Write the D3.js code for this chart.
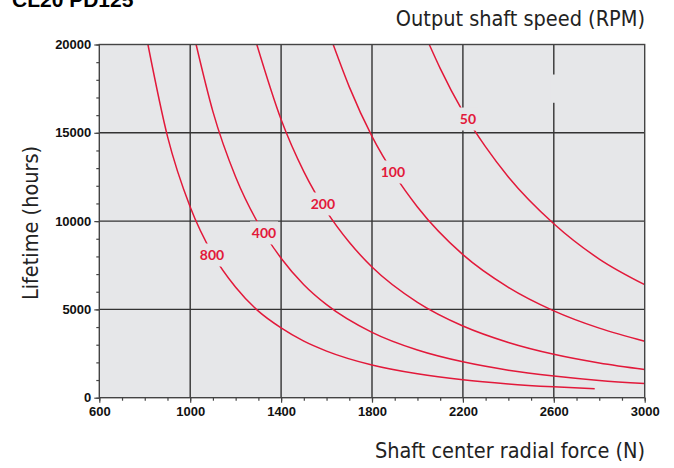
<!DOCTYPE html>
<html>
<head>
<meta charset="utf-8">
<script src="https://cdn.jsdelivr.net/npm/d3@7"></script>
<style>
  body { margin: 0; background: #fff; }
  svg { display: block; }
  .tick text { font-family: "Liberation Sans", Arial, sans-serif; font-weight: bold; font-size: 13px; fill: #111; }
  .axis-title { font-family: "DejaVu Sans Condensed", "Liberation Sans Narrow", sans-serif; font-size: 21.5px; fill: #222; }
  .rpm-label { font-family: "Lato", "Open Sans", sans-serif; font-weight: bold; font-size: 14px; fill: #e2193a; }
</style>
</head>
<body>
<div id="vis"></div>
<script>
// x ticks (N) and y ticks (hours)
const xTicks = [600, 1000, 1400, 1800, 2200, 2600, 3000];
const yTicks = [0, 5000, 10000, 15000, 20000];

// curves: radial force (N) -> lifetime (hours)
const force800 = [814, 900, 1000, 1100, 1200, 1300, 1400, 1500, 1600, 1800, 2000, 2200, 2400, 2600, 2780];
const life800 = [20000, 14800, 10800, 8100, 6250, 4900, 3950, 3200, 2640, 1850, 1350, 1010, 780, 615, 500];
const force400 = [1026, 1100, 1200, 1300, 1400, 1500, 1600, 1800, 2000, 2200, 2400, 2600, 2800, 3000];
const life400 = [20000, 16200, 12500, 9850, 7900, 6400, 5270, 3700, 2700, 2030, 1560, 1230, 980, 800];
const force200 = [1293, 1400, 1500, 1600, 1700, 1800, 2000, 2200, 2400, 2600, 2800, 3000];
const life200 = [20000, 15750, 12800, 10550, 8800, 7400, 5400, 4060, 3130, 2460, 1970, 1600];
const force100 = [1629, 1700, 1800, 1900, 2000, 2200, 2400, 2600, 2800, 3000];
const life100 = [20000, 17600, 14800, 12600, 10800, 8100, 6250, 4920, 3940, 3200];
const force50 = [2052, 2100, 2200, 2300, 2400, 2600, 2800, 3000];
const life50 = [20000, 18650, 16200, 14200, 12500, 9850, 7850, 6400];

// label spots on each curve
const speeds = [800, 400, 200, 100, 50];
const labelForce = [1096, 1325, 1584, 1892, 2222];
const labelLife = [8080, 9330, 10970, 12780, 15780];

const curves = [
  {rpm: 800, force: force800, life: life800},
  {rpm: 400, force: force400, life: life400},
  {rpm: 200, force: force200, life: life200},
  {rpm: 100, force: force100, life: life100},
  {rpm: 50, force: force50, life: life50},
];

const W = 674;
const H = 468;
const margin = {top: 44.5, right: 29.3, bottom: 70.3, left: 99.3};
const width = W - margin.left - margin.right;
const height = H - margin.top - margin.bottom;
const red = '#e2193a';
const plotBg = '#e6e7e9';

const root = d3.select('#vis').append('svg')
  .attr('width', W)
  .attr('height', H);

// cut-off heading at the very top
root.append('text')
  .attr('x', 12).attr('y', 7)
  .style('font-family', 'Liberation Sans, Arial, sans-serif')
  .style('font-weight', 'bold')
  .style('font-size', '21px')
  .text('CL20 PD125');

const svg = root.append('g')
  .attr('transform', 'translate(' + margin.left + ',' + margin.top + ')');

const x = d3.scaleLinear().domain([600, 3000]).range([0, width]);
const y = d3.scaleLinear().domain([0, 20000]).range([height, 0]);

svg.append('rect')
  .attr('width', width).attr('height', height)
  .attr('fill', plotBg);

// grid
svg.append('g')
  .selectAll('line')
  .data(xTicks.slice(1, -1))
  .join('line')
  .attr('x1', (d) => x(d)).attr('x2', (d) => x(d))
  .attr('y1', 0).attr('y2', height)
  .attr('stroke', '#333').attr('stroke-width', 1.4);
svg.append('g')
  .selectAll('line')
  .data(yTicks.slice(1, -1))
  .join('line')
  .attr('x1', 0).attr('x2', width)
  .attr('y1', (d) => y(d)).attr('y2', (d) => y(d))
  .attr('stroke', '#333').attr('stroke-width', 1.4);

// break in the 2600 line near the top
svg.append('rect')
  .attr('x', x(2600) - 3).attr('width', 6)
  .attr('y', y(18300)).attr('height', y(16700) - y(18300))
  .attr('fill', plotBg);

// curves
svg.append('clipPath').attr('id', 'clip')
  .append('rect').attr('width', width).attr('height', height);

const line = d3.line()
  .x((d) => x(d[0]))
  .y((d) => y(d[1]))
  .curve(d3.curveMonotoneX);

svg.append('g')
  .attr('clip-path', 'url(#clip)')
  .selectAll('path')
  .data(curves)
  .join('path')
  .attr('d', (c) => line(d3.zip(c.force, c.life)))
  .attr('fill', 'none')
  .attr('stroke', red)
  .attr('stroke-width', 1.5);

// labels sit in a gap cut out of the curve
const labels = svg.append('g')
  .selectAll('g')
  .data(speeds)
  .join('g')
  .attr('transform', (d, i) => 'translate(' + x(labelForce[i]) + ',' + y(labelLife[i]) + ')');
labels.append('rect')
  .attr('x', (d) => d < 100 ? -11 : -14)
  .attr('width', (d) => d < 100 ? 22 : 28)
  .attr('y', -11.5).attr('height', 23)
  .attr('fill', plotBg);
labels.append('text')
  .attr('class', 'rpm-label')
  .attr('text-anchor', 'middle')
  .attr('dy', '0.36em')
  .text((d) => d);

// frame
svg.append('rect')
  .attr('width', width).attr('height', height)
  .attr('fill', 'none')
  .attr('stroke', '#444').attr('stroke-width', 1.4);

// axes
const xAxis = svg.append('g')
  .attr('transform', 'translate(0,' + height + ')');
xAxis.append('g')
  .call(d3.axisBottom(x).tickValues(d3.range(600, 3001, 100)).tickSize(3).tickFormat(''))
  .call((g) => g.select('.domain').remove());
xAxis.append('g')
  .call(d3.axisBottom(x).tickValues(xTicks).tickSize(5).tickPadding(4).tickFormat(d3.format('d')))
  .call((g) => g.select('.domain').remove());

const yAxis = svg.append('g');
yAxis.append('g')
  .call(d3.axisLeft(y).tickValues(d3.range(0, 20001, 1000)).tickSize(3).tickFormat(''))
  .call((g) => g.select('.domain').remove());
yAxis.append('g')
  .call(d3.axisLeft(y).tickValues(yTicks).tickSize(5).tickPadding(3).tickFormat(d3.format('d')))
  .call((g) => g.select('.domain').remove());

root.selectAll('.tick line').attr('stroke', '#444').attr('stroke-width', 1.2);

// axis titles
root.append('text')
  .attr('class', 'axis-title')
  .attr('x', 645).attr('y', 26)
  .attr('text-anchor', 'end')
  .text('Output shaft speed (RPM)');
root.append('text')
  .attr('class', 'axis-title')
  .attr('x', 645).attr('y', 458)
  .attr('text-anchor', 'end')
  .text('Shaft center radial force (N)');
root.append('text')
  .attr('class', 'axis-title')
  .attr('transform', 'translate(38,223) rotate(-90)')
  .attr('text-anchor', 'middle')
  .text('Lifetime (hours)');
</script>
</body>
</html>
